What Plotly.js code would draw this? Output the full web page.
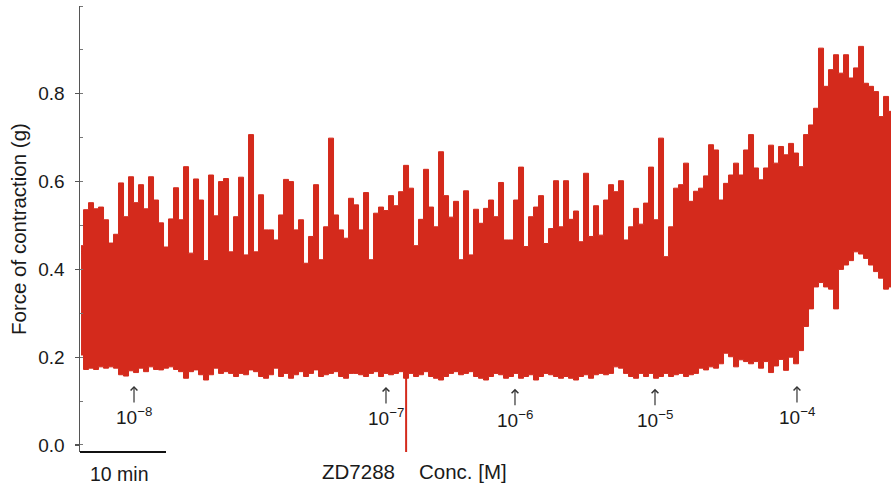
<!DOCTYPE html>
<html>
<head>
<meta charset="utf-8">
<script src="https://cdn.plot.ly/plotly-3.0.1.min.js"></script>
<style>
  html, body { margin: 0; padding: 0; background: #fff; }
  #chart { width: 891px; height: 486px; }
</style>
</head>
<body>
<div id="chart"></div>
<script>
// ---- Data (force of contraction, g) ----
// Sampling interval of the envelope readings (minutes) - one reading every ~0.58 min
const SAMPLE_MIN = 5 / 8.6;

// Upper envelope (peak force) of the contraction trace, in g
const peakForce = [
  0.454, 0.536, 0.552, 0.538, 0.542, 0.513, 0.46, 0.48, 0.597, 0.52,
  0.611, 0.552, 0.593, 0.538, 0.611, 0.558, 0.506, 0.451, 0.515, 0.586,
  0.513, 0.634, 0.437, 0.606, 0.558, 0.42, 0.615, 0.522,
  0.6, 0.607, 0.44, 0.52, 0.61, 0.433, 0.707, 0.44, 0.57, 0.49,
  0.49, 0.467, 0.524, 0.605, 0.6, 0.49, 0.513, 0.414, 0.475, 0.593,
  0.422, 0.497, 0.699, 0.524, 0.49, 0.471, 0.562,
  0.547, 0.49, 0.575, 0.422, 0.528, 0.542, 0.534, 0.568, 0.545, 0.577,
  0.637, 0.585, 0.454, 0.514, 0.628, 0.542, 0.497, 0.668, 0.568, 0.519,
  0.555, 0.422, 0.579, 0.433, 0.537, 0.505, 0.539,
  0.558, 0.52, 0.598, 0.467, 0.467, 0.558, 0.633, 0.452, 0.52, 0.542,
  0.568, 0.459, 0.493, 0.602, 0.497, 0.602, 0.514, 0.533, 0.463, 0.619,
  0.475, 0.545, 0.478, 0.558, 0.593, 0.577, 0.602,
  0.467, 0.497, 0.539, 0.503, 0.551, 0.633, 0.513, 0.699, 0.429, 0.497,
  0.585, 0.593, 0.642, 0.555, 0.578, 0.585, 0.613, 0.684, 0.672, 0.558,
  0.596, 0.615, 0.642, 0.615, 0.672, 0.707, 0.631,
  0.604, 0.631, 0.683, 0.642, 0.68, 0.661, 0.687, 0.665, 0.634, 0.707,
  0.729, 0.767, 0.904, 0.817, 0.855, 0.889, 0.847, 0.889, 0.836, 0.859,
  0.908, 0.824, 0.817, 0.805, 0.748, 0.794, 0.76
];

// Lower envelope (resting force) of the contraction trace, in g
const restForce = [
  0.205, 0.172, 0.175, 0.172, 0.178, 0.175, 0.178, 0.175, 0.160, 0.157,
  0.169, 0.165, 0.175, 0.167, 0.178, 0.172, 0.171, 0.175, 0.178, 0.172,
  0.167, 0.152, 0.167, 0.171, 0.160, 0.148, 0.160, 0.175,
  0.163, 0.167, 0.163, 0.156, 0.163, 0.160, 0.171, 0.167, 0.156, 0.152,
  0.160, 0.175, 0.156, 0.163, 0.152, 0.160, 0.167, 0.156, 0.163, 0.171,
  0.156, 0.160, 0.163, 0.167, 0.156, 0.152, 0.163,
  0.163, 0.160, 0.156, 0.163, 0.167, 0.156, 0.163, 0.160, 0.163, 0.167,
  0.152, 0.163, 0.156, 0.160, 0.167, 0.156, 0.152, 0.148, 0.156, 0.163,
  0.167, 0.160, 0.163, 0.167, 0.156, 0.152, 0.148,
  0.156, 0.163, 0.160, 0.152, 0.156, 0.163, 0.152, 0.156, 0.160, 0.148,
  0.156, 0.163, 0.160, 0.156, 0.152, 0.156, 0.152, 0.148, 0.156, 0.160,
  0.152, 0.160, 0.163, 0.160, 0.163, 0.178, 0.175,
  0.163, 0.156, 0.152, 0.163, 0.156, 0.163, 0.152, 0.156, 0.163, 0.156,
  0.160, 0.163, 0.156, 0.160, 0.163, 0.175, 0.171, 0.178, 0.175, 0.185,
  0.209, 0.201, 0.178, 0.194, 0.190, 0.185, 0.190,
  0.175, 0.190, 0.165, 0.180, 0.195, 0.170, 0.200, 0.185, 0.215, 0.27,
  0.31, 0.36, 0.37, 0.36, 0.355, 0.31, 0.40, 0.41, 0.42, 0.44,
  0.435, 0.425, 0.41, 0.395, 0.38, 0.355, 0.36
];

// Artefact when ZD7288 was applied: time (min) and force range (g)
const artefactTime = [37.8, 37.8];
const artefactForce = [0.16, -0.016];

// ZD7288 additions: time (min) and concentration labels [M]
const additionTimes = [6.16, 35.46, 50.46, 66.74, 83.25];
const additionLabels = ['10<sup>\u22128</sup>', '10<sup>\u22127</sup>', '10<sup>\u22126</sup>', '10<sup>\u22125</sup>', '10<sup>\u22124</sup>'];
const arrowTipForce = [0.1345, 0.132, 0.128, 0.128, 0.1345];

// Y tick labels
const yTickVals = [0, 0.2, 0.4, 0.6, 0.8];
const yTickText = ['0.0', '0.2', '0.4', '0.6', '0.8'];

// Scale bar length (min)
const scaleBarMin = 10;

// ---- Build traces ----
const times = peakForce.map((_, i) => i * SAMPLE_MIN);

const X0 = -0.12;
const X1 = X0 + 811 / 8.6;
const FONT = 'Liberation Sans, Arial, Helvetica, sans-serif';
const RED = '#d42a1c';

const lowTrace = {
  type: 'scatter', mode: 'lines', x: times, y: restForce,
  line: { color: RED, width: 1, shape: 'hvh' },
  hoverinfo: 'skip', showlegend: false
};
const highTrace = {
  type: 'scatter', mode: 'lines', x: times, y: peakForce,
  line: { color: RED, width: 1, shape: 'hvh' },
  fill: 'tonexty', fillcolor: RED,
  hoverinfo: 'skip', showlegend: false
};
const artefactTrace = {
  type: 'scatter', mode: 'lines', x: artefactTime, y: artefactForce,
  line: { color: RED, width: 2 },
  hoverinfo: 'skip', showlegend: false
};

const annotations = [];
for (let k = 0; k < additionTimes.length; k++) {
  annotations.push({
    x: additionTimes[k], y: arrowTipForce[k], xref: 'x', yref: 'y',
    text: additionLabels[k], showarrow: true,
    ax: 0, ay: 30, axref: 'pixel', ayref: 'pixel',
    arrowhead: 4, arrowsize: 1.1, arrowwidth: 1.2, arrowcolor: '#333',
    standoff: 0, startstandoff: 0,
    font: { family: FONT, size: 19, color: '#1a1a1a' }
  });
}
annotations.push({
  xref: 'paper', yref: 'paper', x: (18 - 80) / 811, y: (452 - 229) / 446,
  text: 'Force of contraction (g)', textangle: -90, showarrow: false,
  xanchor: 'center', yanchor: 'middle',
  font: { family: FONT, size: 20.5, color: '#1a1a1a' }
});
annotations.push({
  xref: 'paper', yref: 'paper', x: (119 - 80) / 811, y: (452 - 474) / 446,
  text: '10 min', showarrow: false, xanchor: 'center', yanchor: 'middle',
  font: { family: FONT, size: 19.5, color: '#1a1a1a' }
});
annotations.push({
  xref: 'paper', yref: 'paper', x: (358.5 - 80) / 811, y: (452 - 471) / 446,
  text: 'ZD7288', showarrow: false, xanchor: 'center', yanchor: 'middle',
  font: { family: FONT, size: 20.5, color: '#1a1a1a' }
});
annotations.push({
  xref: 'paper', yref: 'paper', x: (463 - 80) / 811, y: (452 - 471) / 446,
  text: 'Conc. [M]', showarrow: false, xanchor: 'center', yanchor: 'middle',
  font: { family: FONT, size: 20.5, color: '#1a1a1a' }
});

const layout = {
  width: 891, height: 486,
  margin: { l: 80, r: 0, t: 6, b: 34, pad: 0 },
  paper_bgcolor: '#fff', plot_bgcolor: '#fff',
  font: { family: FONT, color: '#1a1a1a' },
  showlegend: false,
  xaxis: {
    range: [X0, X1], visible: false, fixedrange: true
  },
  yaxis: {
    range: [-0.016, 1.0], showline: true, linecolor: '#555', linewidth: 1.5,
    ticks: 'outside', ticklen: 4, tickwidth: 1.2, tickcolor: '#555',
    tickmode: 'array', tickvals: yTickVals, ticktext: yTickText,
    tickfont: { family: FONT, size: 19, color: '#1a1a1a' },
    ticklabelstandoff: 6,
    minor: { tickmode: 'linear', tick0: 0, dtick: 0.1, ticks: 'inside', ticklen: 3, tickcolor: '#777', tickwidth: 1 },
    showgrid: false, zeroline: false, fixedrange: true, automargin: false
  },
  shapes: [{
    type: 'line', xref: 'x', yref: 'paper',
    x0: X0, x1: X0 + scaleBarMin, y0: 0, y1: 0,
    line: { color: '#111', width: 2.2 }
  }],
  annotations: annotations
};

Plotly.newPlot('chart', [lowTrace, highTrace, artefactTrace], layout, { staticPlot: true, displayModeBar: false });
</script>
</body>
</html>
